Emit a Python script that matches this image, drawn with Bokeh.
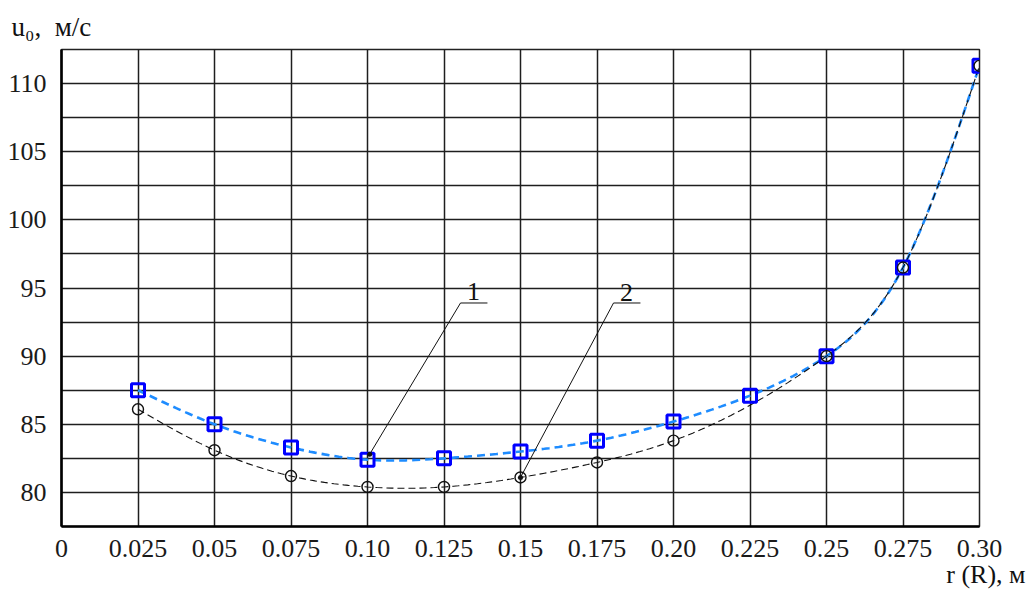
import numpy as np
from bokeh.plotting import figure
from bokeh.models import FixedTicker, CustomJSTickFormatter, Title
from bokeh.core.properties import value
from bokeh.embed import file_html
from bokeh.resources import INLINE

# ---- data ----
r_values = [0.025, 0.05, 0.075, 0.10, 0.125, 0.15, 0.175, 0.20, 0.225, 0.25, 0.275, 0.30]
u_curve1 = [87.5, 85.0, 83.3, 82.4, 82.5, 83.0, 83.8, 85.2, 87.1, 90.0, 96.5, 111.3]
u_curve2 = [86.1, 83.1, 81.2, 80.4, 80.4, 81.1, 82.2, 83.8, 86.4, 90.0, 96.5, 111.3]
curve2_marker_shown = [True, True, True, True, True, True, True, True, False, True, True, True]

x_ticks = [0, 0.025, 0.05, 0.075, 0.10, 0.125, 0.15, 0.175, 0.20, 0.225, 0.25, 0.275, 0.30]
x_tick_labels = ["0", "0.025", "0.05", "0.075", "0.10", "0.125", "0.15", "0.175",
                 "0.20", "0.225", "0.25", "0.275", "0.30"]
y_ticks = [80, 85, 90, 95, 100, 105, 110]
y_grid = [80, 82.5, 85, 87.5, 90, 92.5, 95, 97.5, 100, 102.5, 105, 107.5, 110]

# leader annotations (label, text pos, underline, pointed-at point)
callout_labels = ["1", "2"]
callout_text_x = [0.1346, 0.1846]
callout_text_y = [94.75, 94.7]
callout_shelf_x0 = [0.1304, 0.1804]
callout_shelf_x1 = [0.1392, 0.1892]
callout_shelf_y = [93.9, 93.9]
callout_tip_x = [0.1007, 0.150]
callout_tip_y = [82.8, 81.1]

SERIF = "Liberation Serif"
W, H = 1034, 590


def smooth(xs, ys, n=16):
    xs = np.asarray(xs, float)
    ys = np.asarray(ys, float)
    k = len(xs)
    h = np.diff(xs)
    A = np.zeros((k, k))
    b = np.zeros(k)
    A[0, 0] = A[-1, -1] = 1.0
    for i in range(1, k - 1):
        A[i, i - 1] = h[i - 1]
        A[i, i] = 2 * (h[i - 1] + h[i])
        A[i, i + 1] = h[i]
        b[i] = 6 * ((ys[i + 1] - ys[i]) / h[i] - (ys[i] - ys[i - 1]) / h[i - 1])
    M = np.linalg.solve(A, b)
    outx, outy = [], []
    for i in range(k - 1):
        t = np.linspace(xs[i], xs[i + 1], n, endpoint=(i == k - 2))
        a = xs[i + 1] - t
        c = t - xs[i]
        yy = (M[i] * a ** 3 + M[i + 1] * c ** 3) / (6 * h[i]) \
            + (ys[i] / h[i] - M[i] * h[i] / 6) * a + (ys[i + 1] / h[i] - M[i + 1] * h[i] / 6) * c
        outx.extend(t)
        outy.extend(yy)
    return outx, outy


top_title = Title(text="u\u2080,\u00a0\u00a0м/с", align="left", offset=-50, standoff=16,
                  text_font=SERIF, text_font_size="27px", text_font_style="normal",
                  text_color="#111111")

p = figure(width=W, height=H, x_range=(0, 0.30), y_range=(77.5, 112.5),
           output_backend="svg", toolbar_location=None, title=top_title,
           min_border_left=61, min_border_right=55, min_border_top=49, min_border_bottom=64)
p.background_fill_color = "white"
p.border_fill_color = "white"
p.outline_line_color = "#222222"
p.outline_line_width = 1.5

# axes
p.xaxis.ticker = FixedTicker(ticks=x_ticks)
p.xaxis.formatter = CustomJSTickFormatter(args=dict(tv=x_ticks, tl=x_tick_labels), code="""
    for (let i = 0; i < tv.length; i++) { if (Math.abs(tv[i] - tick) < 1e-9) return tl[i]; }
    return tick.toString();
""")
p.yaxis.ticker = FixedTicker(ticks=y_ticks)
for ax in (p.xaxis[0], p.yaxis[0]):
    ax.axis_line_color = "black"
    ax.axis_line_width = 2.6
    ax.major_tick_line_color = None
    ax.minor_tick_line_color = None
    ax.major_label_text_font = SERIF
    ax.major_label_text_font_size = "26px"
    ax.major_label_text_color = "#1a1a1a"
p.xaxis.major_label_standoff = 7
p.yaxis.major_label_standoff = 9

p.xgrid.ticker = FixedTicker(ticks=x_ticks[1:])
p.ygrid.ticker = FixedTicker(ticks=y_grid)
for g in (p.xgrid[0], p.ygrid[0]):
    g.grid_line_color = "#1e1e1e"
    g.grid_line_width = 1.5

# curves
sx1, sy1 = smooth(r_values, u_curve1)
sx2, sy2 = smooth(r_values, u_curve2)
p.line(sx1, sy1, line_color="#1e8cff", line_width=2.6, line_dash="8 5")
p.line(sx2, sy2, line_color="#111111", line_width=1.1, line_dash="7 4")

p.scatter(r_values, u_curve1, marker="square", size=13, fill_color=None,
          line_color="#0000ff", line_width=3)
cx = [x for x, s in zip(r_values, curve2_marker_shown) if s]
cy = [y for y, s in zip(u_curve2, curve2_marker_shown) if s]
p.scatter(cx, cy, marker="circle", size=11, fill_color=None,
          line_color="#111111", line_width=1.4)

# callouts
p.segment(callout_shelf_x0, callout_shelf_y, callout_shelf_x1, callout_shelf_y,
          line_color="#111111", line_width=1)
p.segment(callout_shelf_x0, callout_shelf_y, callout_tip_x, callout_tip_y,
          line_color="#111111", line_width=1)
p.scatter(callout_tip_x, callout_tip_y, marker="circle", size=5, fill_color="#111111",
          line_color=None)
p.text(callout_text_x, callout_text_y, text=callout_labels, text_font=value(SERIF),
       text_font_size="26px", text_align="center", text_baseline="middle", text_color="#111111")

# x-axis title, bottom right
p.add_layout(Title(text="r (R), м", align="right", offset=-46, standoff=-3,
                   text_font=SERIF, text_font_size="26px", text_font_style="normal",
                   text_color="#111111"), "below")

open("out.html", "w").write(file_html(p, INLINE))
